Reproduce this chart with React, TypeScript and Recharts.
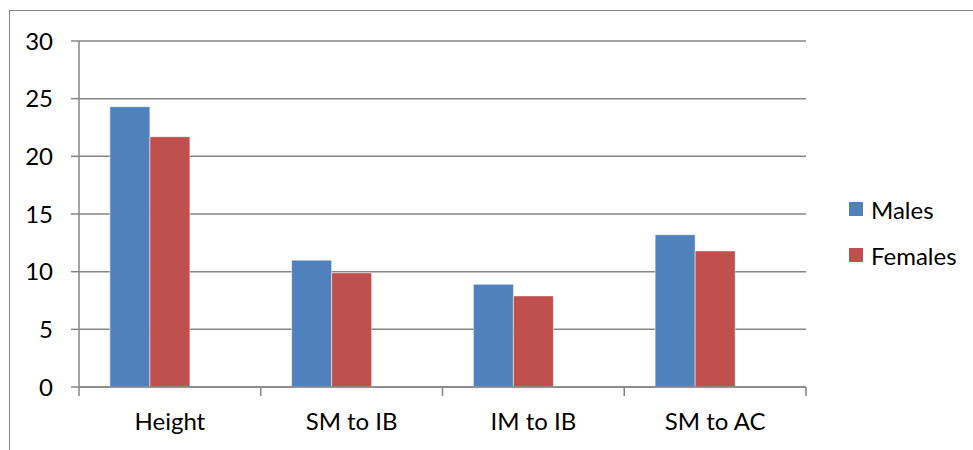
import React from "react";
import { BarChart, Bar, XAxis, YAxis, CartesianGrid, Legend } from "recharts";

const categories = ["Height", "SM to IB", "IM to IB", "SM to AC"];
const males = [24.3, 11.0, 8.9, 13.2];
const females = [21.7, 9.9, 7.9, 11.8];
// The original chart reserves room for a third, empty series
const emptySeries = [null, null, null, null];
const yTicks = [0, 5, 10, 15, 20, 25, 30];

const data = categories.map((c, i) => ({
  name: c,
  Males: males[i],
  Females: females[i],
  Empty: emptySeries[i],
}));

const FONT = "Lato, 'Open Sans', sans-serif";
const GRAY = "#868686";

const XTick = (props: any) => {
  const { x, y, payload, index, visibleTicksCount } = props;
  const half = payload && payload.offset ? payload.offset : 90.875;
  const axisY = y - 8;
  const isLast = index === (visibleTicksCount ?? 4) - 1;
  return (
    <g>
      <line x1={x - half} x2={x - half} y1={axisY} y2={axisY + 9} stroke={GRAY} strokeWidth={1.5} />
      {isLast && (
        <line x1={x + half} x2={x + half} y1={axisY} y2={axisY + 9} stroke={GRAY} strokeWidth={1.5} />
      )}
      <text x={x} y={axisY + 37} textAnchor="middle" fontFamily={FONT} fontSize={24} fill="#000" dominantBaseline="middle">
        {payload.value}
      </text>
    </g>
  );
};

const LegendContent = (props: any) => {
  const items = [
    { label: "Males", color: "#4F81BD" },
    { label: "Females", color: "#C0504D" },
  ];
  return (
    <div style={{ fontFamily: FONT, fontSize: 24, color: "#000" }}>
      {items.map((it) => (
        <div key={it.label} style={{ display: "flex", alignItems: "center", height: 46 }}>
          <span style={{ display: "inline-block", width: 14, height: 14, background: it.color, marginRight: 8 }} />
          <span>{it.label}</span>
        </div>
      ))}
    </div>
  );
};

export default function App() {
  return (
    <div style={{ position: "absolute", left: 0, top: 0, width: 973, height: 450, overflow: "hidden", background: "#fff" }}>
      <div
        style={{
          position: "absolute",
          left: 9,
          top: 10,
          width: 1000,
          height: 600,
          borderLeft: `1.5px solid ${GRAY}`,
          borderTop: `1.5px solid ${GRAY}`,
        }}
      />
      <div style={{ position: "absolute", left: 0, top: 0 }}>
        <BarChart
          width={973}
          height={450}
          data={data}
          margin={{ top: 41, right: 167, bottom: 0, left: 0 }}
          barCategoryGap="17%"
          barGap={0}
        >
          <CartesianGrid vertical={false} stroke={GRAY} strokeWidth={1.5} />
          <XAxis
            dataKey="name"
            height={63}
            tickLine={false}
            axisLine={{ stroke: GRAY, strokeWidth: 1.5 }}
            tick={<XTick />}
            tickSize={8}
            tickMargin={0}
            interval={0}
          />
          <YAxis
            width={79}
            domain={[0, 30]}
            ticks={yTicks}
            interval={0}
            tickSize={8}
            tickMargin={18}
            tickLine={{ stroke: GRAY, strokeWidth: 1.5 }}
            axisLine={{ stroke: GRAY, strokeWidth: 1.5 }}
            tick={{ fontFamily: FONT, fontSize: 24, fill: "#000" }}
          />
          <Legend
            layout="vertical"
            align="center"
            verticalAlign="middle"
            content={<LegendContent />}
            wrapperStyle={{ left: 849, top: 186, width: 124 }}
          />
          <Bar dataKey="Males" fill="#4F81BD" stroke="rgba(255,255,255,0.5)" strokeWidth={1} isAnimationActive={false} />
          <Bar dataKey="Females" fill="#C0504D" stroke="rgba(255,255,255,0.5)" strokeWidth={1} isAnimationActive={false} />
          <Bar dataKey="Empty" fill="#9BBB59" isAnimationActive={false} />
        </BarChart>
      </div>
    </div>
  );
}
